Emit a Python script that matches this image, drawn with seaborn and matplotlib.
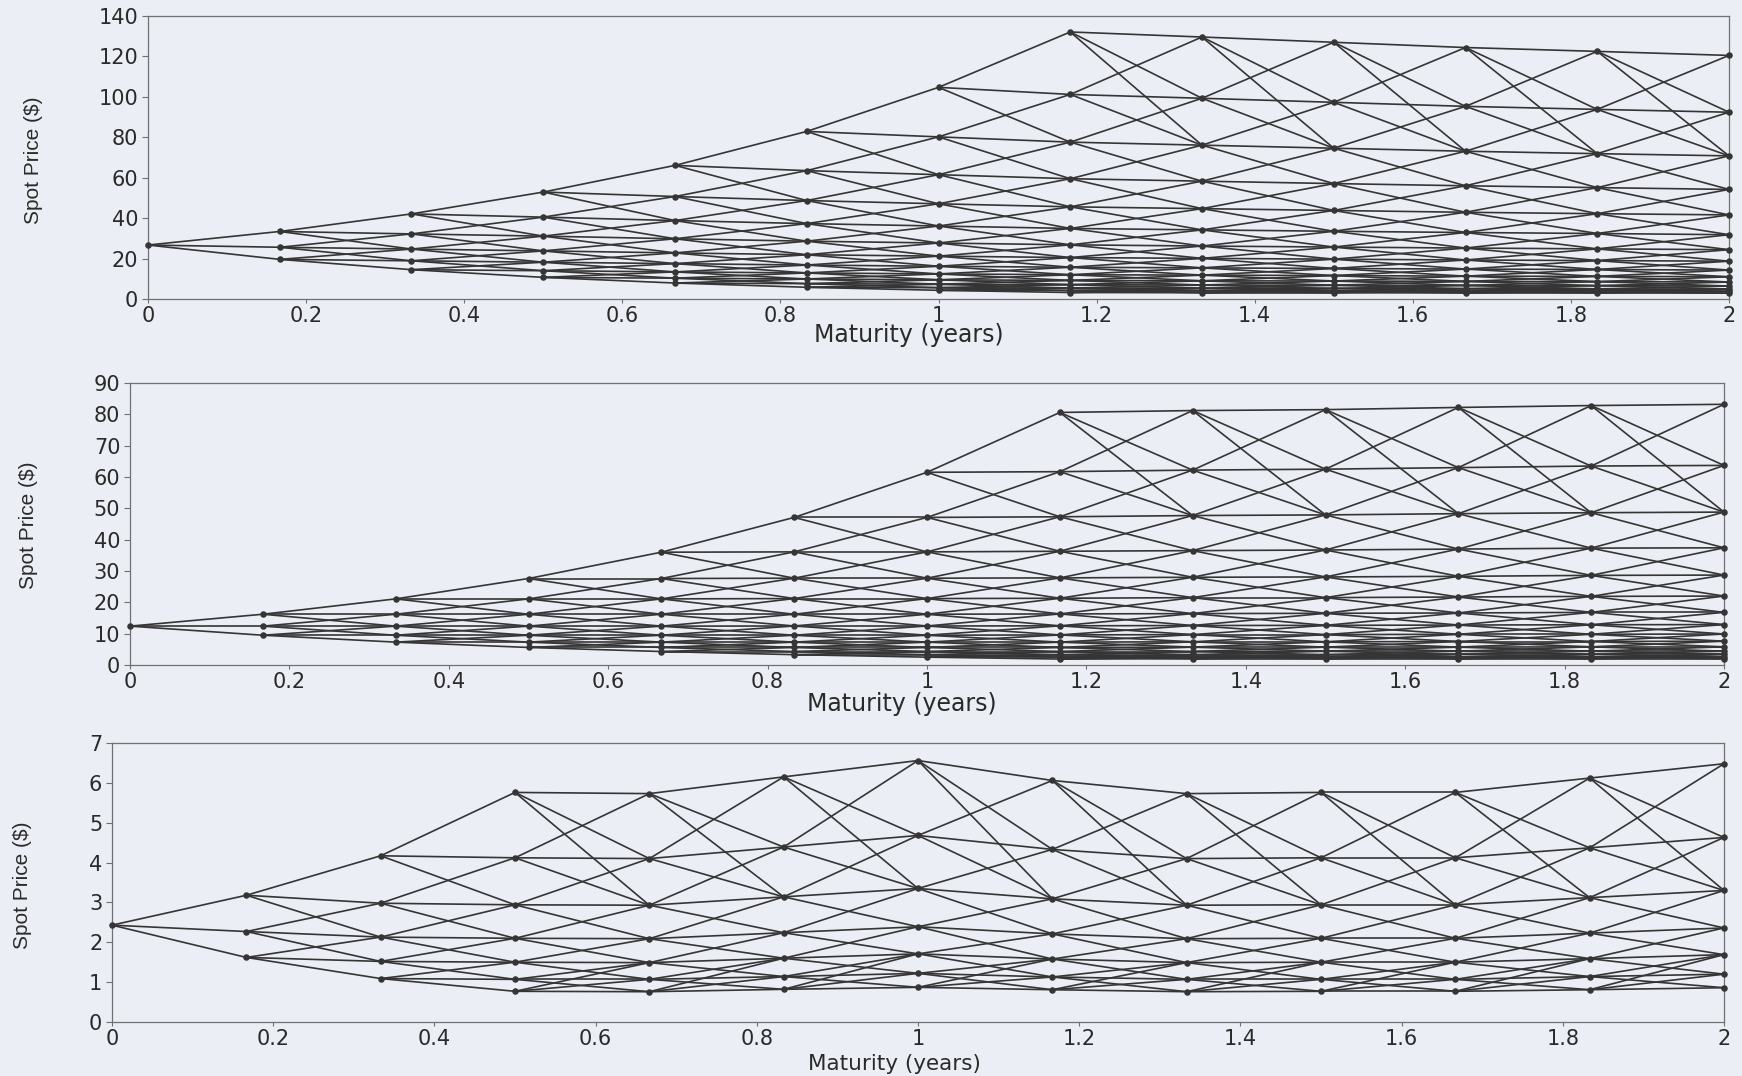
import matplotlib
matplotlib.use("Agg")
import matplotlib.pyplot as plt
import pandas as pd
import seaborn as sns

# ---------------- data ----------------
maturity = [0.0, 0.1667, 0.3333, 0.5, 0.6667, 0.8333, 1.0,
            1.1667, 1.3333, 1.5, 1.6667, 1.8333, 2.0]

# node prices at every time step, listed from the top node down
spot_top = [
    [26.7],
    [33.4, 25.6, 19.6],
    [42.1, 32.2, 24.7, 18.9, 14.5],
    [52.9, 40.5, 31.1, 23.8, 18.2, 14.0, 10.7],
    [66.1, 50.7, 38.8, 29.8, 22.8, 17.5, 13.4, 10.3, 7.9],
    [82.9, 63.5, 48.7, 37.3, 28.6, 21.9, 16.8, 12.9, 9.9, 7.6, 5.8],
    [104.7, 80.2, 61.5, 47.1, 36.1, 27.7, 21.2, 16.2, 12.4, 9.5, 7.3, 5.6, 4.3],
    [132.1, 101.2, 77.6, 59.5, 45.6, 34.9, 26.8, 20.5, 15.7, 12.0, 9.2, 7.1, 5.4, 4.2, 3.2],
    [129.6, 99.3, 76.1, 58.3, 44.7, 34.2, 26.2, 20.1, 15.4, 11.8, 9.0, 6.9, 5.3, 4.1, 3.1],
    [127.0, 97.3, 74.6, 57.1, 43.8, 33.5, 25.7, 19.7, 15.1, 11.6, 8.9, 6.8, 5.2, 4.0, 3.1],
    [124.4, 95.3, 73.1, 56.0, 42.9, 32.9, 25.2, 19.3, 14.8, 11.3, 8.7, 6.7, 5.1, 3.9, 3.0],
    [122.5, 93.8, 71.9, 55.1, 42.2, 32.4, 24.8, 19.0, 14.6, 11.2, 8.6, 6.6, 5.0, 3.9, 3.0],
    [120.5, 92.4, 70.8, 54.2, 41.6, 31.8, 24.4, 18.7, 14.3, 11.0, 8.4, 6.4, 4.9, 3.8, 2.9],
]

spot_mid = [
    [12.4],
    [16.2, 12.4, 9.5],
    [21.1, 16.2, 12.4, 9.5, 7.3],
    [27.6, 21.1, 16.2, 12.4, 9.5, 7.3, 5.6],
    [36.0, 27.6, 21.1, 16.2, 12.4, 9.5, 7.3, 5.6, 4.3],
    [47.1, 36.1, 27.7, 21.2, 16.2, 12.45, 9.5, 7.3, 5.6, 4.3, 3.3],
    [61.5, 47.1, 36.1, 27.7, 21.2, 16.2, 12.45, 9.5, 7.3, 5.6, 4.3, 3.3, 2.5],
    [80.6, 61.7, 47.3, 36.3, 27.8, 21.3, 16.3, 12.5, 9.6, 7.3, 5.6, 4.3, 3.3, 2.5, 1.9],
    [81.2, 62.2, 47.7, 36.5, 28.0, 21.5, 16.4, 12.6, 9.7, 7.4, 5.7, 4.3, 3.3, 2.6, 2.0],
    [81.5, 62.5, 47.9, 36.7, 28.1, 21.5, 16.5, 12.65, 9.7, 7.4, 5.7, 4.4, 3.3, 2.6, 2.0],
    [82.2, 63.0, 48.3, 37.0, 28.3, 21.7, 16.6, 12.75, 9.8, 7.5, 5.7, 4.4, 3.4, 2.6, 2.0],
    [82.8, 63.5, 48.6, 37.3, 28.6, 21.9, 16.8, 12.85, 9.8, 7.5, 5.8, 4.4, 3.4, 2.6, 2.0],
    [83.2, 63.7, 48.8, 37.4, 28.7, 22.0, 16.8, 12.9, 9.9, 7.6, 5.8, 4.4, 3.4, 2.6, 2.0],
]

spot_low = [
    [2.43],
    [3.18, 2.27, 1.62],
    [4.17, 2.98, 2.13, 1.52, 1.09],
    [5.76, 4.12, 2.94, 2.10, 1.50, 1.07, 0.77],
    [5.73, 4.10, 2.93, 2.09, 1.49, 1.07, 0.76],
    [6.15, 4.39, 3.14, 2.24, 1.60, 1.14, 0.82],
    [6.56, 4.68, 3.35, 2.39, 1.71, 1.22, 0.87],
    [6.06, 4.33, 3.09, 2.21, 1.58, 1.13, 0.81],
    [5.73, 4.10, 2.93, 2.09, 1.49, 1.07, 0.76],
    [5.76, 4.12, 2.94, 2.10, 1.50, 1.07, 0.77],
    [5.76, 4.12, 2.94, 2.10, 1.50, 1.07, 0.77],
    [6.12, 4.37, 3.12, 2.23, 1.59, 1.14, 0.81],
    [6.48, 4.63, 3.30, 2.36, 1.69, 1.20, 0.86],
]

# widest level index of each tree (truncation of the branching)
jmax_top, jmax_mid, jmax_low = 7, 7, 3

y_ticks_top = [0, 20, 40, 60, 80, 100, 120, 140]
y_ticks_mid = [0, 10, 20, 30, 40, 50, 60, 70, 80, 90]
y_ticks_low = [0, 1, 2, 3, 4, 5, 6, 7]
x_ticks = [0, 0.2, 0.4, 0.6, 0.8, 1.0, 1.2, 1.4, 1.6, 1.8, 2.0]
x_tick_labels = ["0", "0.2", "0.4", "0.6", "0.8", "1", "1.2", "1.4", "1.6", "1.8", "2"]
x_label = "Maturity (years)"
y_label = "Spot Price ($)"


def tree_frames(prices, jmax):
    node_rows, edge_rows = [], []
    eid = 0
    for i, level in enumerate(prices):
        jtop = min(i, jmax)
        for p in level:
            node_rows.append({"t": maturity[i], "price": p})
        if i + 1 >= len(prices):
            continue
        nxt = prices[i + 1]
        jtop_n = min(i + 1, jmax)
        for k, p in enumerate(level):
            j = jtop - k
            if j == jmax:
                succ = (j, j - 1, j - 2)
            elif j == -jmax:
                succ = (j + 2, j + 1, j)
            else:
                succ = (j + 1, j, j - 1)
            for js in succ:
                q = nxt[jtop_n - js]
                edge_rows.append({"edge": eid, "t": maturity[i], "price": p})
                edge_rows.append({"edge": eid, "t": maturity[i + 1], "price": q})
                eid += 1
    return pd.DataFrame(node_rows), pd.DataFrame(edge_rows)


# ---------------- styling ----------------
sns.set_theme(style="ticks")
BG = "#eceef5"
INK = "#353535"
FRAME = "#707070"
TXT = "#2a2a2a"
plt.rcParams["font.family"] = ["DejaVu Sans"]

fig = plt.figure(figsize=(17.42, 10.76), dpi=100, facecolor=BG)
W, H = 1742.0, 1076.0

panels = [
    # data, jmax, yticks, (left, right, top, bottom) px, xlabel pos, ylabel pos, xlabel size
    (spot_top, jmax_top, y_ticks_top, (148, 1729, 16, 299), (909, 335), (33, 160), 17),
    (spot_mid, jmax_mid, y_ticks_mid, (130, 1724, 383, 665), (902, 704), (29, 525), 17),
    (spot_low, jmax_low, y_ticks_low, (112, 1724, 743, 1022), (894, 1064), (23, 885), 15.5),
]

for data, jmax, yticks, (l, r, t, b), (xlx, xly), (ylx, yly), xls in panels:
    ax = fig.add_axes([l / W, 1 - b / H, (r - l) / W, (b - t) / H])
    ax.set_facecolor(BG)
    nodes, edges = tree_frames(data, jmax)
    sns.lineplot(data=edges, x="t", y="price", units="edge", estimator=None,
                 sort=False, color=INK, linewidth=1.2, ax=ax, legend=False)
    sns.scatterplot(data=nodes, x="t", y="price", color=INK, s=22,
                    linewidth=0, ax=ax, legend=False, zorder=3, clip_on=False)
    ax.set_xlim(0, 2)
    ax.set_ylim(yticks[0], yticks[-1])
    ax.set_yticks(yticks)
    ax.set_yticklabels([str(v) for v in yticks])
    ax.set_xticks(x_ticks)
    ax.set_xticklabels(x_tick_labels)
    ax.tick_params(axis="y", direction="out", length=4, width=0.8,
                   color=FRAME, labelsize=15, labelcolor=TXT, pad=3)
    ax.tick_params(axis="x", direction="out", length=3, width=0.8,
                   color=FRAME, labelsize=15, labelcolor=TXT, pad=2)
    for s in ax.spines.values():
        s.set_visible(True)
        s.set_color(FRAME)
        s.set_linewidth(0.9)
    ax.set_xlabel(x_label, fontsize=xls, color=TXT, family=["DejaVu Sans"])
    ax.xaxis.set_label_coords((xlx - l) / (r - l), (b - xly) / (b - t))
    ax.xaxis.label.set_va("center")
    ax.set_ylabel(y_label, fontsize=15, color=TXT,
                  family=["Liberation Sans Narrow", "Liberation Sans"])
    ax.yaxis.set_label_coords((ylx - l) / (r - l), (b - yly) / (b - t))
    ax.yaxis.label.set_va("center")

fig.savefig("out.png", dpi=100, facecolor=BG)
